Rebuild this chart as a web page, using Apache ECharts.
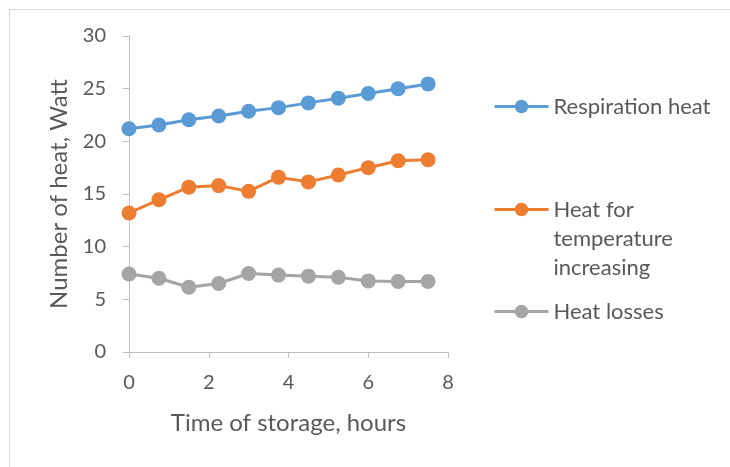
<!DOCTYPE html>
<html>
<head>
<meta charset="utf-8">
<script src="https://cdn.jsdelivr.net/npm/echarts@6/dist/echarts.min.js"></script>
<style>html,body{margin:0;padding:0;background:#fff;}#c{width:730px;height:467px;}</style>
</head>
<body>
<div id="c"></div>
<script>
const hours = [0, 0.75, 1.5, 2.25, 3, 3.75, 4.5, 5.25, 6, 6.75, 7.5];
const respirationHeat = [21.2, 21.55, 22.05, 22.4, 22.85, 23.2, 23.65, 24.1, 24.55, 25.0, 25.45];
const temperatureHeat = [13.2, 14.45, 15.65, 15.8, 15.25, 16.6, 16.15, 16.8, 17.5, 18.15, 18.25];
const heatLosses = [7.4, 7.0, 6.15, 6.5, 7.45, 7.3, 7.2, 7.1, 6.75, 6.7, 6.7];
const seriesNames = ['Respiration heat', 'Heat for\ntemperature\nincreasing', 'Heat losses'];
const colors = ['#5b9bd5', '#ed7d31', '#a5a5a5'];

const pair = (vals) => hours.map((h, i) => [h, vals[i]]);
const font = 'Lato, "Open Sans", sans-serif';
const chart = echarts.init(document.getElementById('c'), null, {renderer: 'canvas'});

const legendBase = {
  left: 493,
  orient: 'vertical',
  padding: 0,
  itemWidth: 54,
  itemHeight: 17,
  lineStyle: {width: 3},
  textStyle: {fontFamily: font, fontSize: 22, color: '#595959', lineHeight: 29},
  formatter: (name) => name.indexOf('\n') >= 0 ? '\n\n' + name : name
};

chart.setOption({
  backgroundColor: '#fff',
  animation: false,
  color: colors,
  graphic: [{
    type: 'rect', left: 7, top: 7,
    shape: {width: 740, height: 480},
    style: {fill: 'none', stroke: '#d9d9d9', lineWidth: 1}, silent: true
  }],
  grid: {left: 129, right: 282, top: 36, bottom: 115},
  legend: [
    Object.assign({}, legendBase, {top: 92, data: [seriesNames[0]]}),
    Object.assign({}, legendBase, {top: 137, data: [seriesNames[1]]}),
    Object.assign({}, legendBase, {top: 297, data: [seriesNames[2]]})
  ],
  xAxis: {
    type: 'value', min: 0, max: 8, interval: 2,
    name: 'Time of storage, hours', nameLocation: 'middle', nameGap: 59,
    nameTextStyle: {fontFamily: font, fontSize: 24, color: '#595959'},
    axisLine: {show: true, lineStyle: {color: '#bfbfbf', width: 1}},
    axisTick: {show: true, inside: false, length: 6, lineStyle: {color: '#bfbfbf'}},
    axisLabel: {fontFamily: font, fontSize: 20, color: '#595959', margin: 21},
    splitLine: {show: false}
  },
  yAxis: {
    type: 'value', min: 0, max: 30, interval: 5,
    name: 'Number of heat, Watt', nameLocation: 'middle', nameGap: 58,
    nameTextStyle: {fontFamily: font, fontSize: 24, color: '#595959'},
    axisLine: {show: true, lineStyle: {color: '#bfbfbf', width: 1}},
    axisTick: {show: true, inside: false, length: 6, lineStyle: {color: '#bfbfbf'}},
    axisLabel: {fontFamily: font, fontSize: 20, color: '#595959', margin: 23},
    splitLine: {show: false}
  },
  series: [respirationHeat, temperatureHeat, heatLosses].map((vals, i) => ({
    name: seriesNames[i],
    type: 'line',
    data: pair(vals),
    symbol: 'circle',
    symbolSize: 15,
    lineStyle: {width: 3, color: colors[i]},
    itemStyle: {color: colors[i]}
  }))
});
</script>
</body>
</html>
